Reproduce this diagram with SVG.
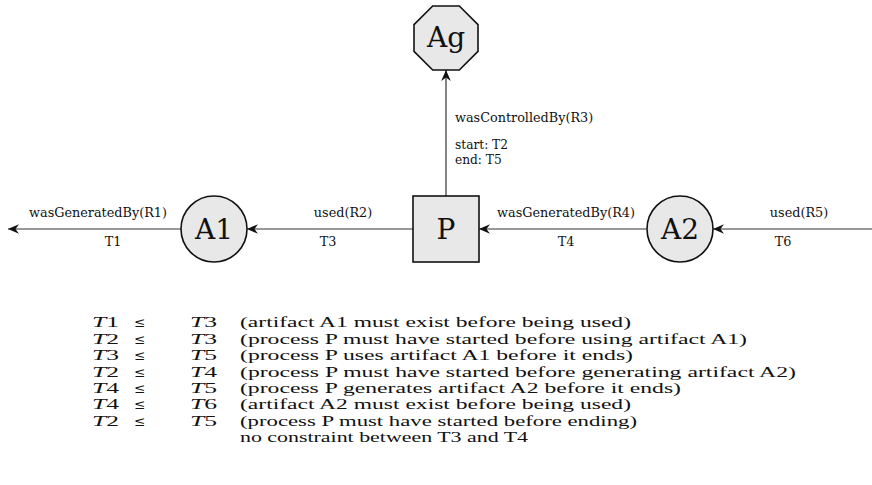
<svg xmlns="http://www.w3.org/2000/svg" width="872" height="485" viewBox="0 0 872 485">
<style>
.node{fill:#e8e8e8;stroke:#111;stroke-width:1.6}
.nl{font-family:"DejaVu Serif",serif;font-size:28px;fill:#111;text-anchor:middle}
.edge{stroke:#333;stroke-width:1.2;fill:none}
.lbl{font-family:"DejaVu Serif",serif;font-size:12.8px;fill:#111}
.sm{font-size:12.2px}
.mid{text-anchor:middle}
.cm{font-family:"Liberation Serif",serif;font-size:14.3px;fill:#111}
.it{font-style:italic}
.le{font-family:"DejaVu Serif",serif;font-size:13.5px}
</style>
<defs>
<marker id="ah" markerUnits="userSpaceOnUse" markerWidth="14" markerHeight="12" viewBox="-11 -6 12 12" refX="0" refY="0" orient="auto">
<path d="M0,0 L-11,-4.8 L-7.5,0 L-11,4.8 Z" fill="#111"/>
</marker>
</defs>
<g id="connectors">
<line class="edge" x1="181" y1="229" x2="8" y2="229" marker-end="url(#ah)"/>
<line class="edge" x1="413" y1="229" x2="247" y2="229" marker-end="url(#ah)"/>
<line class="edge" x1="646" y1="229" x2="479" y2="229" marker-end="url(#ah)"/>
<line class="edge" x1="872" y1="229" x2="713" y2="229" marker-end="url(#ah)"/>
<line class="edge" x1="446" y1="196" x2="446" y2="70" marker-end="url(#ah)"/>
<text class="lbl mid" x="98" y="217">wasGeneratedBy(R1)</text>
<text class="lbl mid" x="113" y="246">T1</text>
<text class="lbl mid" x="343" y="217">used(R2)</text>
<text class="lbl mid" x="328" y="246">T3</text>
<text class="lbl mid" x="566" y="217">wasGeneratedBy(R4)</text>
<text class="lbl mid" x="566" y="246">T4</text>
<text class="lbl mid" x="799" y="217">used(R5)</text>
<text class="lbl mid" x="783" y="246">T6</text>
<text class="lbl" x="455" y="122">wasControlledBy(R3)</text>
<text class="lbl sm" x="455" y="149">start: T2</text>
<text class="lbl sm" x="455" y="163.5">end: T5</text>
</g>
<g id="Ag">
<polygon class="node" points="432.7,6 459.3,6 478,24.7 478,51.3 459.3,70 432.7,70 414,51.3 414,24.7"/>
<text class="nl" x="446" y="47">Ag</text>
</g>
<g id="A1">
<circle class="node" cx="214" cy="229" r="33"/>
<text class="nl" x="214" y="239">A1</text>
</g>
<g id="P">
<rect class="node" x="413" y="196" width="66" height="66"/>
<text class="nl" x="446" y="239">P</text>
</g>
<g id="A2">
<circle class="node" cx="680" cy="229" r="33"/>
<text class="nl" x="680" y="239">A2</text>
</g>
<g id="constraints" class="cm">
<text x="92" y="327" textLength="27" lengthAdjust="spacingAndGlyphs"><tspan class="it">T</tspan>1</text>
<text class="le" x="134" y="327">≤</text>
<text x="190" y="327" textLength="27" lengthAdjust="spacingAndGlyphs"><tspan class="it">T</tspan>3</text>
<text x="240" y="327" textLength="391" lengthAdjust="spacingAndGlyphs">(artifact A1 must exist before being used)</text>
<text x="92" y="344" textLength="27" lengthAdjust="spacingAndGlyphs"><tspan class="it">T</tspan>2</text>
<text class="le" x="134" y="344">≤</text>
<text x="190" y="344" textLength="27" lengthAdjust="spacingAndGlyphs"><tspan class="it">T</tspan>3</text>
<text x="240" y="344" textLength="507" lengthAdjust="spacingAndGlyphs">(process P must have started before using artifact A1)</text>
<text x="92" y="360" textLength="27" lengthAdjust="spacingAndGlyphs"><tspan class="it">T</tspan>3</text>
<text class="le" x="134" y="360">≤</text>
<text x="190" y="360" textLength="27" lengthAdjust="spacingAndGlyphs"><tspan class="it">T</tspan>5</text>
<text x="240" y="360" textLength="393" lengthAdjust="spacingAndGlyphs">(process P uses artifact A1 before it ends)</text>
<text x="92" y="377" textLength="27" lengthAdjust="spacingAndGlyphs"><tspan class="it">T</tspan>2</text>
<text class="le" x="134" y="377">≤</text>
<text x="190" y="377" textLength="27" lengthAdjust="spacingAndGlyphs"><tspan class="it">T</tspan>4</text>
<text x="240" y="377" textLength="556" lengthAdjust="spacingAndGlyphs">(process P must have started before generating artifact A2)</text>
<text x="92" y="393" textLength="27" lengthAdjust="spacingAndGlyphs"><tspan class="it">T</tspan>4</text>
<text class="le" x="134" y="393">≤</text>
<text x="190" y="393" textLength="27" lengthAdjust="spacingAndGlyphs"><tspan class="it">T</tspan>5</text>
<text x="240" y="393" textLength="441" lengthAdjust="spacingAndGlyphs">(process P generates artifact A2 before it ends)</text>
<text x="92" y="409" textLength="27" lengthAdjust="spacingAndGlyphs"><tspan class="it">T</tspan>4</text>
<text class="le" x="134" y="409">≤</text>
<text x="190" y="409" textLength="27" lengthAdjust="spacingAndGlyphs"><tspan class="it">T</tspan>6</text>
<text x="240" y="409" textLength="391" lengthAdjust="spacingAndGlyphs">(artifact A2 must exist before being used)</text>
<text x="92" y="426" textLength="27" lengthAdjust="spacingAndGlyphs"><tspan class="it">T</tspan>2</text>
<text class="le" x="134" y="426">≤</text>
<text x="190" y="426" textLength="27" lengthAdjust="spacingAndGlyphs"><tspan class="it">T</tspan>5</text>
<text x="240" y="426" textLength="397" lengthAdjust="spacingAndGlyphs">(process P must have started before ending)</text>
<text x="240" y="442" textLength="288" lengthAdjust="spacingAndGlyphs">no constraint between T3 and T4</text>
</g>
</svg>
